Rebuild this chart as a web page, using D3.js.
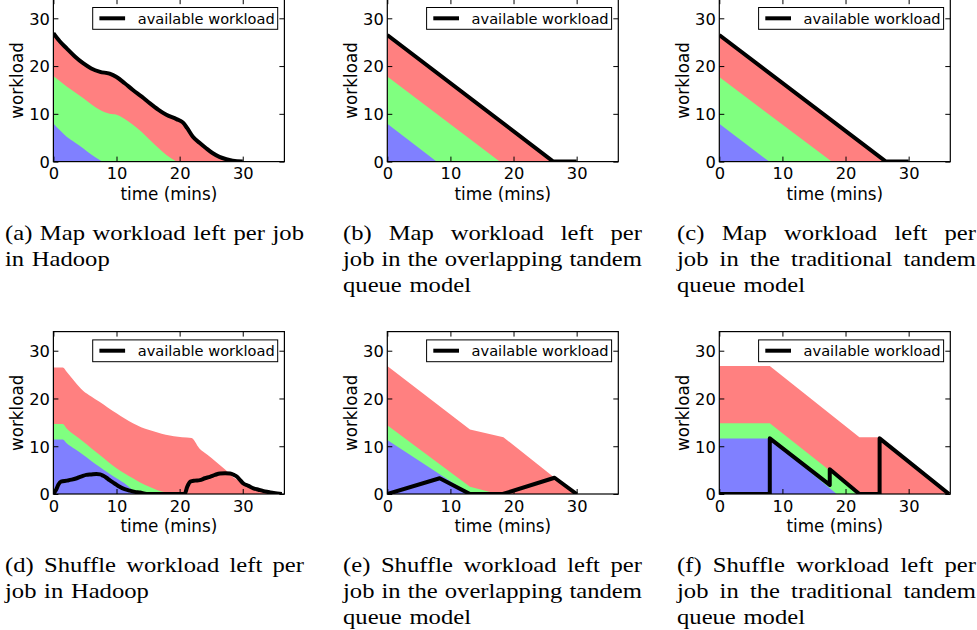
<!DOCTYPE html>
<html><head><meta charset="utf-8">
<script src="https://cdn.jsdelivr.net/npm/d3@7"></script>
<style>html,body{margin:0;padding:0;background:#fff;} svg{display:block;}</style>
</head><body>
<svg id="chart" width="977" height="630"></svg>
<script>
// ---------------- DATA ----------------
// Each array lists [time (mins), workload] points; "Jobs1" = workload left of job 1,
// "Jobs12" = jobs 1+2 (stack top), "Jobs123" = jobs 1+2+3 (stack top).
const xTicks = [0, 10, 20, 30];
const yTicks = [0, 10, 20, 30];
const xMax = 36.6, yMax = 34;
const legendLabel = "available workload";
const xLabel = "time (mins)", yLabel = "workload";

// (a) Map, Hadoop
const mapHadoopJobs1 = [[0,8.0],[1,6.6],[2.1,5.2],[3.4,4.0],[4.7,2.8],[6,1.5],[7.4,0.3],[7.8,0]];
const mapHadoopJobs12 = [[0,17.9],[2.1,15.7],[4.7,13.3],[7.4,10.8],[8.9,10.0],[10,9.8],[11.3,8.9],[12.6,7.7],[14,6.2],[15.3,4.5],[16.6,2.9],[17.9,1.4],[19.5,0]];
const mapHadoopJobs123 = [[0,26.9],[1,25.2],[2.1,23.7],[3.4,22.0],[4.7,20.6],[6,19.5],[7.4,18.8],[8.9,18.4],[10,17.7],[11.3,16.4],[12.6,15.0],[14,13.6],[15.3,12.2],[16.6,10.9],[17.9,9.8],[19.5,8.9],[20.5,8.2],[21.2,7.0],[22.1,5.2],[23.2,3.9],[24.2,2.8],[25.2,1.8],[26.3,1.0],[27.4,0.5],[28.4,0.2],[30,0]];
const mapHadoopAvail = [[0,26.9],[1,25.2],[2.1,23.7],[3.4,22.0],[4.7,20.6],[6,19.5],[7.4,18.8],[8.9,18.4],[10,17.7],[11.3,16.4],[12.6,15.0],[14,13.6],[15.3,12.2],[16.6,10.9],[17.9,9.8],[19.5,8.9],[20.5,8.2],[21.2,7.0],[22.1,5.2],[23.2,3.9],[24.2,2.8],[25.2,1.8],[26.3,1.0],[27.4,0.5],[28.4,0.2],[30,0]];

// (b) Map, overlapping tandem queue model
const mapOverlapJobs1 = [[0,7.9],[7.8,0]];
const mapOverlapJobs12 = [[0,17.8],[17.8,0]];
const mapOverlapJobs123 = [[0,26.5],[26.3,0]];
const mapOverlapAvail = [[0,26.5],[26.3,0],[30,0]];

// (c) Map, traditional tandem queue model
const mapTradJobs1 = [[0,7.9],[7.9,0]];
const mapTradJobs12 = [[0,17.7],[17.8,0]];
const mapTradJobs123 = [[0,26.5],[26.4,0]];
const mapTradAvail = [[0,26.5],[26.4,0],[30,0]];

// (d) Shuffle, Hadoop
const shufHadoopJobs1 = [[0,11.4],[1.5,11.4],[2.1,10.6],[3.4,9.4],[4.7,8.2],[6,6.9],[7.3,5.7],[8.6,4.5],[10,3.3],[11.6,1.9],[12.6,0.8],[13.7,0.1],[14.2,0]];
const shufHadoopJobs12 = [[0,14.65],[1.5,14.65],[2.1,13.7],[3.4,12.3],[4.7,11.0],[6,9.6],[7.3,8.2],[8.6,6.8],[10,5.4],[11.3,4.3],[12.6,3.3],[13.9,2.3],[15.2,1.5],[16.5,0.8],[17.8,0.35],[18.9,0]];
const shufHadoopJobs123 = [[0,26.5],[1.5,26.5],[2.1,25.6],[3.4,23.5],[4.7,21.6],[6,20.4],[7.3,19.3],[8.6,18.1],[10,16.9],[11.3,15.8],[12.6,14.8],[13.9,14.0],[15.2,13.4],[16.5,12.9],[17.8,12.4],[19.1,12.1],[20.4,11.9],[21.9,11.7],[23.1,9.6],[24.4,8.2],[25.7,6.8],[27.3,5.0],[28.4,3.6],[29.7,2.5],[31,1.5],[32.3,0.9],[33.6,0.5],[35.2,0.1],[36.2,0]];
const shufHadoopAvail = [[0,0],[0.4,0.8],[0.8,2.0],[1.2,2.6],[2.1,2.8],[2.9,3.0],[3.7,3.3],[4.5,3.7],[5.2,4.0],[6,4.1],[6.8,4.2],[7.4,4.1],[7.9,3.8],[8.4,3.4],[8.9,2.9],[9.7,2.2],[10.5,1.5],[11.3,1.0],[12.1,0.7],[12.9,0.45],[13.7,0.3],[14.8,0],[20.8,0],[21.2,1.5],[21.7,2.6],[22.4,2.8],[23.2,2.9],[24,3.3],[24.8,3.6],[25.6,4.0],[26.4,4.3],[27.2,4.35],[28,4.3],[28.6,4.0],[29.1,3.6],[29.6,2.9],[30.1,2.2],[30.9,1.7],[31.7,1.2],[32.5,0.9],[33.3,0.6],[34.1,0.4],[34.9,0.2],[36.2,0]];

// (e) Shuffle, overlapping tandem queue model
const shufOverlapJobs1 = [[0,11.3],[13.1,0]];
const shufOverlapJobs12 = [[0,14.4],[13.1,1.5],[17.5,0]];
const shufOverlapJobs123 = [[0,26.8],[13.1,13.5],[18.4,11.9],[26.3,3.6],[30,0]];
const shufOverlapAvail = [[0,0],[8.3,3.3],[13.1,0],[18.3,0],[26.5,3.4],[30,0]];

// (f) Shuffle, traditional tandem queue model
const shufTradJobs1 = [[0,11.6],[8,11.6],[18.6,0]];
const shufTradJobs12 = [[0,14.8],[8,14.8],[22.2,0]];
const shufTradJobs123 = [[0,26.8],[8,26.8],[22.2,11.9],[25.4,11.9],[36.4,0]];
const shufTradAvail = [[0,0],[8,0],[8,11.65],[17.5,1.9],[17.5,5.2],[22.2,0],[25.4,0],[25.4,11.65],[36.4,0]];

const captionA = ["(a) Map workload left per job", "in Hadoop"];
const captionB = ["(b) Map workload left per", "job in the overlapping tandem", "queue model"];
const captionC = ["(c) Map workload left per", "job in the traditional tandem", "queue model"];
const captionD = ["(d) Shuffle workload left per", "job in Hadoop"];
const captionE = ["(e) Shuffle workload left per", "job in the overlapping tandem", "queue model"];
const captionF = ["(f) Shuffle workload left per", "job in the traditional tandem", "queue model"];

// ---------------- LAYOUT / STYLE ----------------
const colLeft = [53.4, 387.3, 719.3];
const rowTop = [-0.8, 331.6];
const plotW = 231, plotH = 162.4;
const capLeft = [5, 343, 677], capWidth = 299;
const capBase = [239.5, 571.5], capLead = 26;
const layerColors = ["#ff8080", "#80ff80", "#8080ff"]; // drawn order: jobs123, jobs12, jobs1
const sans = "'DejaVu Sans', sans-serif";
const serif = "'Liberation Serif', serif";

const panels = [
  {col:0,row:0,layers:[mapHadoopJobs123,mapHadoopJobs12,mapHadoopJobs1],avail:mapHadoopAvail,smooth:true,caption:captionA},
  {col:1,row:0,layers:[mapOverlapJobs123,mapOverlapJobs12,mapOverlapJobs1],avail:mapOverlapAvail,smooth:false,caption:captionB},
  {col:2,row:0,layers:[mapTradJobs123,mapTradJobs12,mapTradJobs1],avail:mapTradAvail,smooth:false,caption:captionC},
  {col:0,row:1,layers:[shufHadoopJobs123,shufHadoopJobs12,shufHadoopJobs1],avail:shufHadoopAvail,smooth:true,caption:captionD},
  {col:1,row:1,layers:[shufOverlapJobs123,shufOverlapJobs12,shufOverlapJobs1],avail:shufOverlapAvail,smooth:false,caption:captionE},
  {col:2,row:1,layers:[shufTradJobs123,shufTradJobs12,shufTradJobs1],avail:shufTradAvail,smooth:false,caption:captionF},
];

const svg = d3.select("#chart");
svg.append("rect").attr("width",977).attr("height",630).attr("fill","#fff");

const x = d3.scaleLinear().domain([0, xMax]).range([0, plotW]);
const y = d3.scaleLinear().domain([0, yMax]).range([plotH, 0]);

panels.forEach((p, i) => {
  const g = svg.append("g").attr("transform", `translate(${colLeft[p.col]},${rowTop[p.row]})`);
  const clipId = "clip" + i;
  g.append("clipPath").attr("id", clipId).append("rect").attr("width", plotW).attr("height", plotH);
  const curve = p.smooth ? d3.curveMonotoneX : d3.curveLinear;
  const area = d3.area().x(d => x(d[0])).y0(y(0)).y1(d => y(d[1])).curve(curve);
  const plot = g.append("g").attr("clip-path", `url(#${clipId})`);
  p.layers.forEach((L, k) => {
    plot.append("path").attr("d", area(L)).attr("fill", layerColors[k]).attr("stroke", "none");
  });
  const line = d3.line().x(d => x(d[0])).y(d => y(d[1])).curve(curve);
  plot.append("path").attr("d", line(p.avail)).attr("fill", "none").attr("stroke", "#000")
    .attr("stroke-width", 4).attr("stroke-linejoin", "round");

  // axes (ticks inward on all four sides)
  const ax = (gen, tr) => {
    const a = g.append("g").attr("transform", tr).call(gen);
    a.select(".domain").remove();
    a.selectAll("line").attr("stroke", "#000").attr("stroke-width", 1);
    return a;
  };
  const bx = ax(d3.axisBottom(x).tickValues(xTicks).tickSizeInner(-5).tickSizeOuter(0).tickFormat(d3.format("d")), `translate(0,${plotH})`);
  bx.selectAll("text").attr("y", 17.8).attr("dy", null).attr("font-family", sans).attr("font-size", 16.3).attr("fill", "#000");
  ax(d3.axisTop(x).tickValues(xTicks).tickSizeInner(-5).tickSizeOuter(0).tickFormat(""), "translate(0,0)");
  const ly = ax(d3.axisLeft(y).tickValues(yTicks).tickSizeInner(-5).tickSizeOuter(0).tickFormat(d3.format("d")), "translate(0,0)");
  ly.selectAll("text").attr("x", -3.5).attr("dy", "0.36em").attr("font-family", sans).attr("font-size", 16.3).attr("fill", "#000");
  ax(d3.axisRight(y).tickValues(yTicks).tickSizeInner(-5).tickSizeOuter(0).tickFormat(""), `translate(${plotW},0)`);
  g.append("rect").attr("width", plotW).attr("height", plotH).attr("fill", "none").attr("stroke", "#000").attr("stroke-width", 1.2);

  // axis labels
  g.append("text").attr("x", plotW/2).attr("y", plotH + 38.3).attr("text-anchor", "middle")
    .attr("font-family", sans).attr("font-size", 16.8).text(xLabel);
  g.append("text").attr("transform", `translate(-30,${plotH/2}) rotate(-90)`).attr("text-anchor", "middle")
    .attr("font-family", sans).attr("font-size", 16.8).text(yLabel);

  // legend
  const lg = g.append("g").attr("transform", `translate(${plotW - 6.7 - 185},8.3)`);
  lg.append("rect").attr("width", 185).attr("height", 21.8).attr("fill", "#fff").attr("stroke", "#000").attr("stroke-width", 1);
  lg.append("line").attr("x1", 6.7).attr("x2", 32.4).attr("y1", 10.8).attr("y2", 10.8).attr("stroke", "#000").attr("stroke-width", 4);
  lg.append("text").attr("x", 45).attr("y", 16.3).attr("font-family", sans).attr("font-size", 14.6).text(legendLabel);

  // caption (justified like LaTeX)
  const SX = 1.12;
  const cg = svg.append("g");
  p.caption.forEach((ln, li) => {
    const words = ln.split(" ");
    const last = li === p.caption.length - 1;
    const els = words.map(w => cg.append("text").attr("font-family", serif).attr("font-size", 22).attr("fill", "#000").text(w));
    const widths = els.map(e => e.node().getComputedTextLength() * SX);
    const total = d3.sum(widths);
    const gap = last ? 7.6 : (capWidth - total) / (words.length - 1);
    let cx = capLeft[p.col];
    const by = capBase[p.row] + li * capLead;
    els.forEach((e, k) => {
      e.attr("transform", `translate(${cx},${by}) scale(${SX},1)`);
      cx += widths[k] + gap;
    });
  });
});
</script>
</body></html>
